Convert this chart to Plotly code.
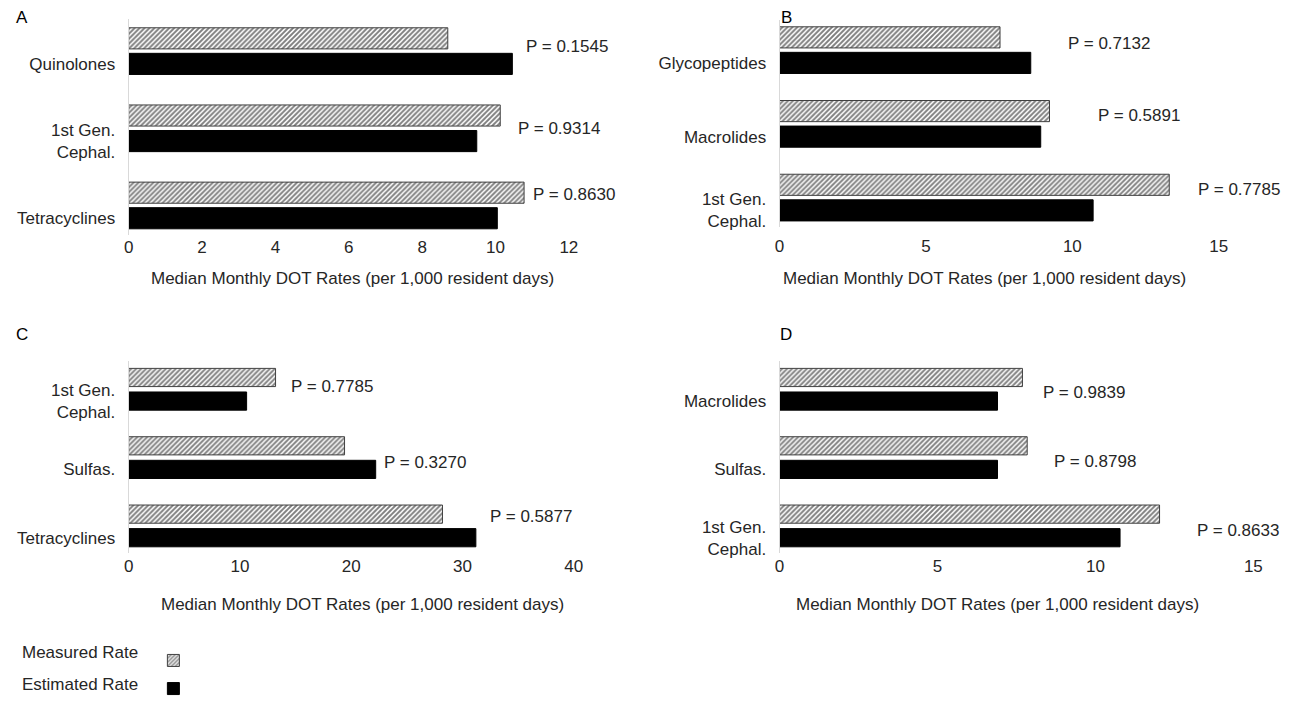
import plotly.graph_objects as go

W, H = 1296, 707

# ---- data ----
a_cats = ["Quinolones", "1st Gen.<br>Cephal.", "Tetracyclines"]
a_measured = [8.7, 10.13, 10.78]
a_estimated = [10.46, 9.49, 10.05]
a_pvals = ["P = 0.1545", "P = 0.9314", "P = 0.8630"]

b_cats = ["Glycopeptides", "Macrolides", "1st Gen.<br>Cephal."]
b_measured = [7.53, 9.22, 13.31]
b_estimated = [8.58, 8.92, 10.71]
b_pvals = ["P = 0.7132", "P = 0.5891", "P = 0.7785"]

c_cats = ["1st Gen.<br>Cephal.", "Sulfas.", "Tetracyclines"]
c_measured = [13.2, 19.4, 28.2]
c_estimated = [10.6, 22.2, 31.2]
c_pvals = ["P = 0.7785", "P = 0.3270", "P = 0.5877"]

d_cats = ["Macrolides", "Sulfas.", "1st Gen.<br>Cephal."]
d_measured = [7.69, 7.84, 12.03]
d_estimated = [6.9, 6.9, 10.78]
d_pvals = ["P = 0.9839", "P = 0.8798", "P = 0.8633"]

x_title = "Median Monthly DOT Rates (per 1,000 resident days)"
series_names = ["Measured Rate", "Estimated Rate"]

FONT = "Liberation Sans, Arial, sans-serif"
TXT = "#262626"


def px_x(p):
    return p / W


def px_y(p):
    return 1 - p / H


panels = [
    dict(cats=a_cats, m=a_measured, e=a_estimated, p=a_pvals,
         xd=(125, 570), c0=65, s=78.5, bh=21.5, gap=4.5, xr=[0, 12], dt=2,
         ppos=[(568, 47), (560, 131), (575, 198)], letter=("A", 17, 18),
         tpos=(351, 283), tly=250),
    dict(cats=b_cats, m=b_measured, e=b_estimated, p=b_pvals,
         xd=(783, 1227), c0=64, s=75, bh=21.5, gap=4.5, xr=[0, 15], dt=5,
         ppos=[(1116, 44), (1146, 118), (1247, 193)], letter=("B", 790, 18),
         tpos=(990, 283), tly=250),
    dict(cats=c_cats, m=c_measured, e=c_estimated, p=c_pvals,
         xd=(125, 575), c0=408, s=69.5, bh=18.5, gap=5.5, xr=[0, 40], dt=10,
         ppos=[(331, 393), (425, 470), (532, 525)], letter=("C", 17, 340),
         tpos=(361, 615), tly=575),
    dict(cats=d_cats, m=d_measured, e=d_estimated, p=d_pvals,
         xd=(783, 1262), c0=408, s=69.5, bh=18.5, gap=5.5, xr=[0, 15], dt=5,
         ppos=[(1091, 399), (1102, 469), (1246, 540)], letter=("D", 790, 340),
         tpos=(1003, 615), tly=575),
]

R_TOP, R_BOT = -0.58, 2.22  # y-range in category units (reversed)

fig = go.Figure()
annotations = []
layout_axes = {}

for i, pn in enumerate(panels):
    sfx = "" if i == 0 else str(i + 1)
    xa, ya = "x" + sfx, "y" + sfx
    s = pn["s"]
    w = pn["bh"] / s
    g = pn["gap"] / s
    y_top_px = pn["c0"] + R_TOP * s
    y_bot_px = pn["c0"] + R_BOT * s
    fig.add_trace(go.Bar(
        x=pn["m"], y=pn["cats"], orientation="h", xaxis=xa, yaxis=ya,
        name=series_names[0], legendgroup="m", showlegend=(i == 0),
        width=w, offset=-w / 2 - g - w,
        marker=dict(color="white", line=dict(color="#404040", width=1),
                    pattern=dict(shape="/", fgcolor="#000000", bgcolor="white",
                                 size=3.5, solidity=0.55)),
        hoverinfo="x+y",
    ))
    fig.add_trace(go.Bar(
        x=pn["e"], y=pn["cats"], orientation="h", xaxis=xa, yaxis=ya,
        name=series_names[1], legendgroup="e", showlegend=(i == 0),
        width=w, offset=-w / 2,
        marker=dict(color="black", line=dict(color="black", width=1)),
        hoverinfo="x+y",
    ))
    layout_axes["xaxis" + sfx] = dict(
        domain=[px_x(pn["xd"][0]), px_x(pn["xd"][1])], range=pn["xr"], dtick=pn["dt"],
        anchor=ya, showgrid=False, zeroline=False, showline=False, ticks="",
        tickfont=dict(family=FONT, size=17, color=TXT),
        ticklabelstandoff=max(0, int(round(pn["tly"] - y_bot_px - 12))),
    )
    layout_axes["yaxis" + sfx] = dict(
        domain=[px_y(y_bot_px), px_y(y_top_px)], anchor=xa,
        categoryorder="array", categoryarray=pn["cats"], range=[R_BOT, R_TOP],
        showgrid=False, zeroline=False, showline=True, linecolor="#d9d9d9", linewidth=1,
        ticks="", tickfont=dict(family=FONT, size=17, color=TXT), ticklabelstandoff=9,
    )
    for txt, (px, py) in zip(pn["p"], pn["ppos"]):
        annotations.append(dict(text=txt, x=px_x(px), y=px_y(py), xref="paper", yref="paper",
                                showarrow=False, xanchor="center", yanchor="middle",
                                font=dict(family=FONT, size=17, color=TXT)))
    lt, lx, ly = pn["letter"]
    annotations.append(dict(text=lt, x=px_x(lx), y=px_y(ly), xref="paper", yref="paper",
                            showarrow=False, xanchor="center", yanchor="middle",
                            font=dict(family=FONT, size=17, color="black")))
    annotations.append(dict(text=x_title, x=px_x(pn["tpos"][0]), y=px_y(pn["tpos"][1]),
                            xref="paper", yref="paper", showarrow=False,
                            xanchor="center", yanchor="middle",
                            font=dict(family=FONT, size=17, color=TXT)))

# legend labels (text to the left of the swatches)
for name, py in zip(series_names, [664, 696]):
    annotations.append(dict(text=name, x=px_x(15), y=px_y(py), xref="paper", yref="paper",
                            showarrow=False, xanchor="left", yanchor="middle",
                            font=dict(family=FONT, size=17, color=TXT)))

fig.update_layout(
    width=W, height=H, margin=dict(l=0, r=0, t=0, b=0),
    paper_bgcolor="white", plot_bgcolor="white",
    barmode="overlay",
    annotations=annotations,
    showlegend=True,
    legend=dict(x=px_x(150), y=px_y(654), xanchor="left", yanchor="top",
                font=dict(family=FONT, size=17, color="rgba(0,0,0,0)"),
                tracegroupgap=3, itemwidth=30, bgcolor="rgba(0,0,0,0)"),
    **layout_axes,
)

fig.write_html(
    "out.html",
    config={"displayModeBar": False},
    post_script=("document.documentElement.style.margin='0';document.documentElement.style.overflow='hidden';"
                 "document.body.style.margin='0';document.body.style.padding='0';document.body.style.overflow='hidden';"),
)
